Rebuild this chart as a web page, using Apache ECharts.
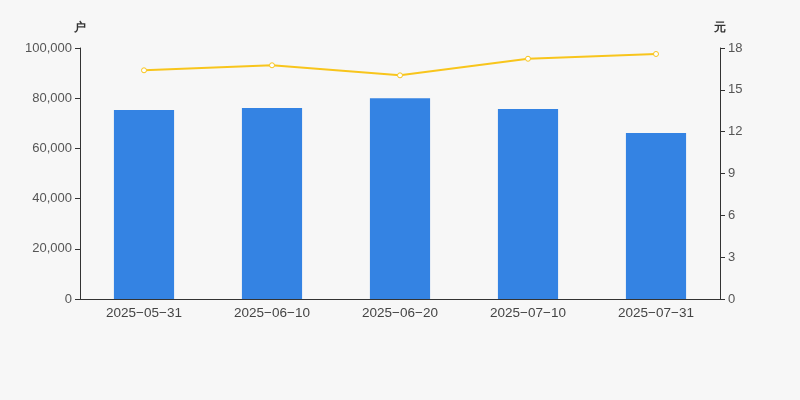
<!DOCTYPE html>
<html><head><meta charset="utf-8">
<script src="https://cdn.jsdelivr.net/npm/echarts@6/dist/echarts.min.js"></script>
<style>html,body{margin:0;padding:0;background:#f7f7f7;}#c{width:800px;height:400px;}</style>
</head><body><div id="c"></div>
<script>
const categories = ['2025-05-31','2025-06-10','2025-06-20','2025-07-10','2025-07-31'];
const holders = [75300, 76100, 80000, 75700, 66100];
const prices = [16.40, 16.76, 16.04, 17.23, 17.57];

const chart = echarts.init(document.getElementById('c'));
const ff = 'Arial, Liberation Sans, sans-serif';
const lbl = {color:'#555', fontSize:13, fontFamily:ff};
chart.setOption({
  backgroundColor:'#f7f7f7',
  animation:false,
  grid:{left:80, right:80, top:48, bottom:101},
  xAxis:{type:'category', data:categories,
    axisLine:{lineStyle:{color:'#333'}}, axisTick:{lineStyle:{color:'#333'}},
    axisLabel:{color:'#444', fontSize:13.5, fontFamily:ff, margin:7, formatter:v=>v.replace(/-/g,'\u2212')}},
  yAxis:[
    {type:'value', min:0, max:100000, interval:20000, name:'户',
     nameTextStyle:{color:'#333', fontSize:12, fontWeight:'bold', align:'center', padding:[0,0,2,0]},
     nameGap:12,
     axisLine:{show:true, lineStyle:{color:'#333'}}, axisTick:{show:true, lineStyle:{color:'#333'}},
     splitLine:{show:false},
     axisLabel:Object.assign({formatter:v=>v.toLocaleString('en-US')}, lbl)},
    {type:'value', min:0, max:18, interval:3, name:'元',
     nameTextStyle:{color:'#333', fontSize:12, fontWeight:'bold', align:'center', padding:[0,0,2,0]},
     nameGap:12,
     axisLine:{show:true, lineStyle:{color:'#333'}}, axisTick:{show:true, lineStyle:{color:'#333'}},
     splitLine:{show:false},
     axisLabel:lbl}
  ],
  series:[
    {type:'bar', data:holders, barWidth:'47%', itemStyle:{color:'#3483e3'}},
    {type:'line', yAxisIndex:1, data:prices, symbol:'circle', symbolSize:5,
     lineStyle:{color:'#f8c51c', width:2},
     itemStyle:{color:'#ffffff', borderColor:'#f8c51c', borderWidth:1}}
  ]
});
</script></body></html>
